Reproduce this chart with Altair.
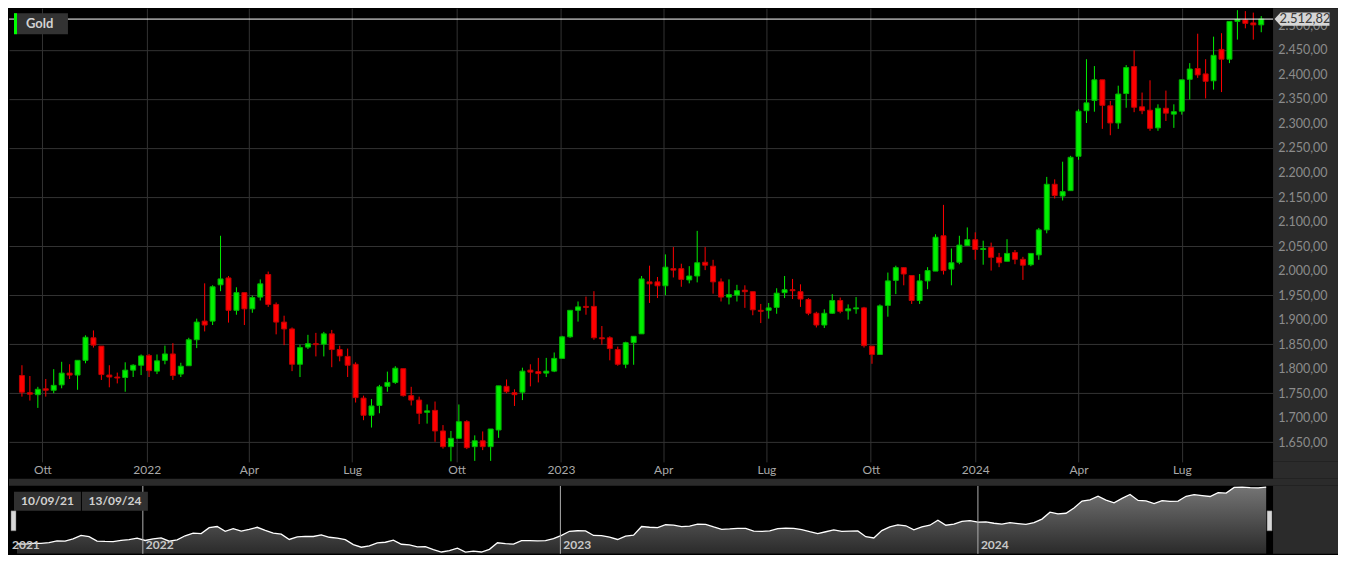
import altair as alt
import pandas as pd

series_name = "Gold"
week_start = "2021-09-13"

opens = [1786, 1751, 1747, 1759, 1756, 1767, 1791, 1787, 1817, 1863,
         1846, 1787, 1783, 1782, 1797, 1807, 1827, 1795, 1817, 1830,
         1789, 1806, 1859, 1897, 1897, 1971, 1985, 1919, 1955, 1922,
         1946, 1992, 1931, 1895, 1881, 1809, 1844, 1851, 1850, 1871,
         1839, 1825, 1809, 1740, 1705, 1725, 1764, 1772, 1800, 1745,
         1736, 1711, 1715, 1673, 1641, 1658, 1692, 1641, 1653, 1641,
         1675, 1764, 1751, 1752, 1797, 1794, 1791, 1795, 1821, 1865,
         1919, 1927, 1927, 1863, 1863, 1839, 1809, 1853, 1871, 1977,
         1977, 1969, 2004, 2004, 1981, 1989, 2017, 2009, 1977, 1946,
         1950, 1960, 1957, 1919, 1919, 1925, 1955, 1961, 1957, 1941,
         1913, 1889, 1913, 1939, 1918, 1922, 1924, 1846, 1829, 1929,
         1980, 2006, 1990, 1939, 1979, 1999, 2071, 2003, 2017, 2051,
         2063, 2043, 2047, 2027, 2019, 2037, 2023, 2012, 2032, 2083,
         2176, 2152, 2163, 2233, 2326, 2347, 2389, 2336, 2301, 2361,
         2416, 2334, 2327, 2291, 2331, 2319, 2325, 2390, 2412, 2401,
         2387, 2451, 2431, 2508, 2511, 2505, 2501]
highs = [1807, 1785, 1763, 1779, 1799, 1814, 1809, 1817, 1868, 1878,
         1846, 1807, 1792, 1813, 1809, 1829, 1830, 1829, 1847, 1852,
         1812, 1863, 1902, 1974, 1970, 2071, 1989, 1966, 1955, 1949,
         1982, 1998, 1935, 1908, 1884, 1849, 1869, 1873, 1875, 1879,
         1847, 1841, 1813, 1745, 1738, 1767, 1794, 1805, 1800, 1763,
         1743, 1727, 1733, 1685, 1673, 1727, 1695, 1664, 1672, 1677,
         1765, 1778, 1758, 1802, 1809, 1822, 1822, 1833, 1867, 1919,
         1937, 1947, 1958, 1887, 1866, 1845, 1855, 1866, 1989, 2010,
         1987, 2033, 2048, 2014, 2009, 2081, 2048, 2022, 1984, 1982,
         1971, 1970, 1957, 1932, 1934, 1964, 1989, 1983, 1972, 1944,
         1916, 1921, 1952, 1945, 1931, 1946, 1926, 1846, 1931, 1996,
         2010, 2007, 1990, 1993, 2007, 2074, 2134, 2045, 2071, 2088,
         2078, 2061, 2057, 2036, 2064, 2042, 2028, 2035, 2087, 2191,
         2186, 2222, 2234, 2329, 2431, 2417, 2389, 2346, 2377, 2419,
         2449, 2363, 2388, 2339, 2367, 2339, 2389, 2423, 2483, 2431,
         2477, 2484, 2508, 2531, 2529, 2526, 2519]
lows = [1743, 1735, 1720, 1743, 1750, 1760, 1779, 1757, 1811, 1843,
        1777, 1762, 1770, 1753, 1783, 1787, 1783, 1789, 1809, 1777,
        1783, 1806, 1842, 1876, 1889, 1958, 1894, 1910, 1889, 1914,
        1939, 1926, 1870, 1848, 1795, 1783, 1840, 1825, 1825, 1803,
        1815, 1783, 1731, 1695, 1680, 1709, 1753, 1769, 1743, 1725,
        1687, 1688, 1651, 1637, 1611, 1658, 1636, 1612, 1634, 1612,
        1659, 1750, 1724, 1736, 1764, 1772, 1783, 1793, 1821, 1863,
        1896, 1910, 1859, 1849, 1817, 1806, 1801, 1808, 1871, 1934,
        1944, 1950, 1986, 1967, 1974, 1976, 2001, 1953, 1937, 1931,
        1937, 1924, 1909, 1893, 1902, 1912, 1944, 1942, 1926, 1909,
        1884, 1883, 1912, 1913, 1900, 1912, 1843, 1810, 1829, 1906,
        1952, 1970, 1932, 1932, 1962, 1999, 1992, 1970, 2013, 2051,
        2022, 2012, 2000, 2007, 2019, 2013, 1981, 2009, 2022, 2076,
        2147, 2143, 2163, 2226, 2301, 2324, 2289, 2276, 2289, 2332,
        2323, 2319, 2285, 2285, 2305, 2291, 2318, 2349, 2393, 2351,
        2369, 2364, 2423, 2471, 2494, 2471, 2486]
closes = [1752, 1748, 1758, 1756, 1766, 1791, 1787, 1817, 1864, 1848,
          1788, 1783, 1781, 1797, 1807, 1826, 1796, 1816, 1830, 1786,
          1805, 1859, 1895, 1889, 1967, 1983, 1919, 1955, 1922, 1945,
          1973, 1931, 1895, 1881, 1809, 1843, 1851, 1849, 1871, 1839,
          1826, 1807, 1741, 1705, 1724, 1763, 1772, 1801, 1745, 1736,
          1709, 1714, 1673, 1641, 1658, 1692, 1639, 1653, 1641, 1677,
          1765, 1753, 1747, 1795, 1793, 1790, 1795, 1821, 1865, 1919,
          1926, 1925, 1863, 1861, 1841, 1809, 1853, 1866, 1983, 1973,
          1969, 2007, 2001, 1982, 1989, 2016, 2011, 1977, 1946, 1951,
          1959, 1957, 1920, 1917, 1924, 1954, 1961, 1959, 1942, 1913,
          1889, 1913, 1939, 1917, 1922, 1924, 1847, 1829, 1928, 1979,
          2006, 1993, 1939, 1979, 2000, 2068, 2000, 2016, 2052, 2063,
          2043, 2045, 2027, 2016, 2035, 2023, 2011, 2035, 2083, 2176,
          2153, 2161, 2231, 2325, 2342, 2389, 2337, 2301, 2360, 2414,
          2333, 2326, 2290, 2331, 2321, 2324, 2389, 2411, 2399, 2386,
          2439, 2431, 2508, 2512, 2504, 2501, 2512.82]

month_names = ["Gen", "Feb", "Mar", "Apr", "Mag", "Giu",
               "Lug", "Ago", "Set", "Ott", "Nov", "Dic"]
price_ticks = [1650, 1700, 1750, 1800, 1850, 1900, 1950, 2000, 2050,
               2100, 2150, 2200, 2250, 2300, 2350, 2400, 2450, 2500]
year_label_dates = ["2021-09-06", "2022-01-01", "2023-01-01", "2024-01-01"]
year_labels = ["2021", "2022", "2023", "2024"]
year_line_dates = ["2022-01-01", "2023-01-01", "2024-01-01"]
range_labels = ["10/09/21", "13/09/24"]

# ---------------- styling ----------------
GREEN = "#00f000"
GREEN_EDGE = "#00b400"
RED = "#ff0000"
RED_EDGE = "#c00000"
GRID = "#333333"
PANEL = "#2b2b2b"
FONT = "Lato"

W, H = 1265, 454
PW = 65
NAV_H = 68
GAP = 24

dates = pd.date_range(week_start, periods=len(closes), freq="7D")
df = pd.DataFrame({"date": dates, "open": opens, "high": highs,
                   "low": lows, "close": closes})
df["dir"] = ["up" if c >= o else "down" for o, c in zip(opens, closes)]

xdomain = [alt.DateTime(year=2021, month=9, date=6),
           alt.DateTime(year=2024, month=9, date=15)]
xscale = alt.Scale(domain=xdomain)
yscale = alt.Scale(domain=[1610, 2535], nice=False, zero=False)

num_expr = ("replace(replace(replace(format(datum.value, ',.2f'), ',', '_'),"
            " '.', ','), '_', '.')")
month_expr = ("month(datum.value) == 0 ? timeFormat(datum.value, '%Y') : "
              + str(month_names) + "[month(datum.value)]")

x_axis = alt.Axis(title=None, tickCount={"interval": "month", "step": 3},
                  labelExpr=month_expr, grid=True, gridColor=GRID,
                  domain=False, ticks=False, labelColor="#a8a8a8",
                  labelFont=FONT, labelFontSize=12, labelPadding=3,
                  labelAlign="center", labelFlush=False, labelOverlap=False)
y_grid_axis = alt.Axis(title=None, values=price_ticks, grid=True,
                       gridColor=GRID, labels=False, ticks=False,
                       domain=False)

dir_fill = alt.Fill("dir:N", scale=alt.Scale(domain=["up", "down"],
                                            range=[GREEN, RED]), legend=None)
dir_stroke = alt.Stroke("dir:N", scale=alt.Scale(domain=["up", "down"],
                                                range=[GREEN_EDGE, RED_EDGE]),
                        legend=None)
dir_color = alt.Color("dir:N", scale=alt.Scale(domain=["up", "down"],
                                              range=[GREEN, RED]), legend=None)

base = alt.Chart(df)
wicks = base.mark_rule(strokeWidth=1).encode(
    x=alt.X("date:T", scale=xscale, axis=x_axis),
    y=alt.Y("low:Q", scale=yscale, axis=y_grid_axis),
    y2="high:Q",
    color=dir_color,
)
bodies = base.mark_bar(size=5, strokeWidth=1).encode(
    x=alt.X("date:T", scale=xscale),
    y=alt.Y("open:Q", scale=yscale),
    y2="close:Q",
    fill=dir_fill,
    stroke=dir_stroke,
)
last_df = pd.DataFrame({"price": [closes[-1]]})
last_rule = alt.Chart(last_df).mark_rule(color="#ffffff", strokeWidth=1).encode(
    y=alt.Y("price:Q", scale=yscale)
)
one = pd.DataFrame({"name": [series_name]})
name_box = alt.Chart(one).mark_rect(color="#333333").encode(
    x=alt.value(5), x2=alt.value(59), y=alt.value(5), y2=alt.value(26))
name_bar = alt.Chart(one).mark_rect(color="#00ff00").encode(
    x=alt.value(5), x2=alt.value(8), y=alt.value(5), y2=alt.value(26))
name_text = alt.Chart(one).mark_text(
    align="left", baseline="middle", font=FONT, fontSize=13,
    fontWeight="bold", color="#d2d2d2").encode(
    x=alt.value(17), y=alt.value(16), text="name:N")

main = alt.layer(wicks, bodies, last_rule, name_box, name_bar, name_text).properties(
    width=W, height=H)

# ---------------- right price panel ----------------
panel_axis = alt.Axis(title=None, orient="right", values=price_ticks,
                      labelExpr=num_expr, labelAlign="right",
                      labelBaseline="middle", labelPadding=-11, ticks=False,
                      tickSize=0, domain=False, grid=False,
                      labelColor="#8c8c8c", labelFont=FONT,
                      labelFontSize=12.5, labelOverlap=False,
                      labelSeparation=0)
panel_ext = alt.Chart(last_df).mark_rect(color=PANEL).encode(
    x=alt.value(0), x2=alt.value(PW), y=alt.value(H), y2=alt.value(H + GAP - 7))
panel_pts = alt.Chart(df).mark_point(opacity=0).encode(
    y=alt.Y("close:Q", scale=yscale, axis=panel_axis))
tag_shape = "M -1 0 L -0.78 -0.24 L 1 -0.24 L 1 0.24 L -0.78 0.24 Z"
last_tag = alt.Chart(last_df).mark_point(
    shape=tag_shape, size=3025, filled=True, fill="#d6d6d6", opacity=1,
    strokeWidth=0).encode(x=alt.value(29),
                          y=alt.Y("price:Q", scale=yscale, axis=panel_axis))
last_text = alt.Chart(last_df).transform_calculate(
    lab="replace(replace(replace(format(datum.price, ',.2f'), ',', '_'), '.', ','), '_', '.')"
).mark_text(align="center", baseline="middle", font=FONT, fontSize=13,
            color="#3a3a3a").encode(
    x=alt.value(32), y=alt.Y("price:Q", scale=yscale, axis=panel_axis),
    text="lab:N")

panel = alt.layer(panel_pts, panel_ext, last_tag, last_text).properties(
    width=PW, height=H, view=alt.ViewBackground(fill=PANEL, strokeWidth=0))

top = alt.hconcat(main, panel, spacing=0, bounds="flush")

# ---------------- navigator ----------------
nav_yscale = alt.Scale(domain=[1617, 2529], nice=False, zero=False)
grad = alt.Gradient(gradient="linear",
                    stops=[alt.GradientStop(color="#a6a6a6", offset=0),
                           alt.GradientStop(color="#3c3c3c", offset=1)],
                    x1=1, x2=1, y1=0, y2=1)
nav_area = alt.Chart(df).mark_area(
    color=grad, clip=True,
    line={"color": "#ffffff", "strokeWidth": 1.3}).encode(
    x=alt.X("date:T", scale=xscale, axis=None),
    y=alt.Y("close:Q", scale=nav_yscale, axis=None, stack=None),
    y2=alt.value(NAV_H))
yl_df = pd.DataFrame({"d": pd.to_datetime(year_line_dates)})
nav_lines = alt.Chart(yl_df).mark_rule(color="#b0b0b0", strokeWidth=1).encode(
    x=alt.X("d:T", scale=xscale))
yt_df = pd.DataFrame({"d": pd.to_datetime(year_label_dates), "lab": year_labels})
nav_years = alt.Chart(yt_df).mark_text(
    align="left", baseline="middle", dx=3, font=FONT, fontSize=12,
    fontWeight="bold", color="#c8c8c8").encode(
    x=alt.X("d:T", scale=xscale), y=alt.value(59), text="lab:N")
top_bar = alt.Chart(one).mark_rect(color=PANEL).encode(
    x=alt.value(0), x2=alt.value(W + PW), y=alt.value(-7), y2=alt.value(0))
nav_panel = alt.Chart(one).mark_rect(color=PANEL).encode(
    x=alt.value(W), x2=alt.value(W + PW), y=alt.value(0), y2=alt.value(NAV_H))
box1 = alt.Chart(one).mark_rect(color="#303030").encode(
    x=alt.value(5), x2=alt.value(72), y=alt.value(6), y2=alt.value(25))
box2 = alt.Chart(one).mark_rect(color="#303030").encode(
    x=alt.value(73), x2=alt.value(139), y=alt.value(6), y2=alt.value(25))
txt1 = alt.Chart(pd.DataFrame({"lab": [range_labels[0]]})).mark_text(
    align="center", baseline="middle", font=FONT, fontSize=12,
    fontWeight="bold", color="#d0d0d0").encode(
    x=alt.value(38.5), y=alt.value(15.5), text="lab:N")
txt2 = alt.Chart(pd.DataFrame({"lab": [range_labels[1]]})).mark_text(
    align="center", baseline="middle", font=FONT, fontSize=12,
    fontWeight="bold", color="#d0d0d0").encode(
    x=alt.value(106), y=alt.value(15.5), text="lab:N")
handle_l = alt.Chart(one).mark_rect(color="#d8d8d8", stroke="#666666",
                                    strokeWidth=0.5).encode(
    x=alt.value(2), x2=alt.value(7), y=alt.value(25), y2=alt.value(45))
handle_r = alt.Chart(one).mark_rect(color="#d8d8d8", stroke="#666666",
                                    strokeWidth=0.5).encode(
    x=alt.value(W - 6), x2=alt.value(W - 1), y=alt.value(25), y2=alt.value(45))

nav = alt.layer(nav_area, nav_lines, nav_years, top_bar, nav_panel,
                box1, box2, txt1, txt2, handle_l, handle_r).properties(
    width=W, height=NAV_H)

chart = alt.vconcat(top, nav, spacing=0, padding=0).configure(
    background="#000000", font=FONT).configure_view(strokeWidth=0)

chart.save("out.html", embed_options={"renderer": "svg", "actions": False})
